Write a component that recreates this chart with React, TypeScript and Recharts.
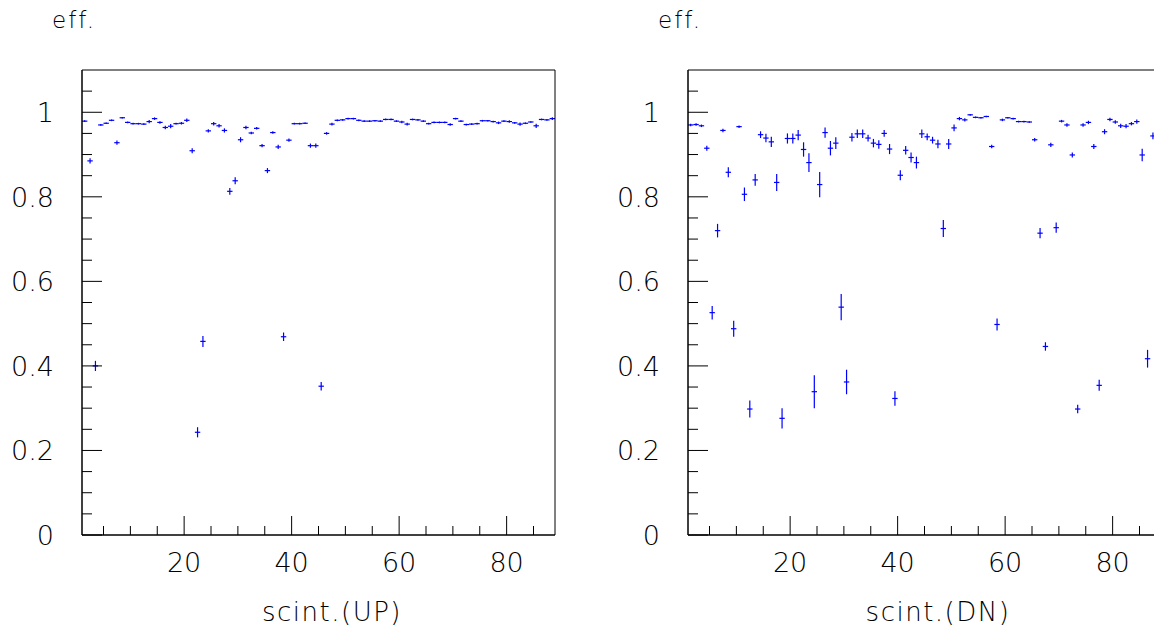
import React from 'react';
import { ScatterChart, Scatter, XAxis, YAxis, ErrorBar } from 'recharts';

// scintillator numbers (histogram bins 1..88, bin i spans [i, i+1])
const scintillators: number[] = Array.from({ length: 88 }, (_, i) => i + 1);

const effUP: number[] = [
  0.979, 0.885, 0.400, 0.970, 0.974, 0.981, 0.928, 0.987, 0.976, 0.973,
  0.973, 0.972, 0.978, 0.985, 0.976, 0.964, 0.967, 0.973, 0.974, 0.981,
  0.909, 0.243, 0.458, 0.956, 0.973, 0.968, 0.957, 0.813, 0.838, 0.935,
  0.964, 0.951, 0.962, 0.921, 0.862, 0.952, 0.918, 0.469, 0.934, 0.973,
  0.973, 0.974, 0.921, 0.921, 0.352, 0.950, 0.972, 0.981, 0.982, 0.985,
  0.985, 0.981, 0.979, 0.979, 0.980, 0.979, 0.983, 0.983, 0.979, 0.977,
  0.972, 0.983, 0.982, 0.979, 0.973, 0.976, 0.976, 0.976, 0.971, 0.985,
  0.979, 0.971, 0.972, 0.973, 0.980, 0.980, 0.978, 0.975, 0.979, 0.978,
  0.975, 0.972, 0.974, 0.977, 0.968, 0.983, 0.982, 0.985,
];
const errUP: number[] = [
  0.002, 0.006, 0.012, 0.002, 0.002, 0.002, 0.005, 0.002, 0.002, 0.002,
  0.002, 0.002, 0.004, 0.003, 0.003, 0.004, 0.005, 0.002, 0.003, 0.004,
  0.006, 0.012, 0.013, 0.004, 0.004, 0.004, 0.005, 0.008, 0.008, 0.006,
  0.004, 0.003, 0.003, 0.004, 0.006, 0.003, 0.005, 0.010, 0.004, 0.002,
  0.002, 0.002, 0.005, 0.005, 0.010, 0.003, 0.003, 0.002, 0.002, 0.002,
  0.002, 0.002, 0.002, 0.002, 0.002, 0.002, 0.002, 0.002, 0.002, 0.003,
  0.003, 0.002, 0.002, 0.002, 0.002, 0.002, 0.002, 0.002, 0.003, 0.002,
  0.002, 0.002, 0.002, 0.002, 0.002, 0.002, 0.002, 0.003, 0.002, 0.003,
  0.002, 0.004, 0.002, 0.002, 0.005, 0.002, 0.002, 0.003,
];
const effDN: number[] = [
  0.970, 0.971, 0.968, 0.915, 0.526, 0.720, 0.957, 0.858, 0.488, 0.966,
  0.806, 0.298, 0.840, 0.947, 0.939, 0.930, 0.834, 0.276, 0.938, 0.938,
  0.946, 0.912, 0.881, 0.339, 0.829, 0.952, 0.915, 0.927, 0.539, 0.362,
  0.941, 0.949, 0.949, 0.939, 0.927, 0.924, 0.950, 0.913, 0.323, 0.851,
  0.910, 0.893, 0.881, 0.949, 0.942, 0.934, 0.925, 0.725, 0.925, 0.963,
  0.985, 0.982, 0.994, 0.988, 0.987, 0.990, 0.919, 0.498, 0.982, 0.987,
  0.985, 0.978, 0.978, 0.977, 0.935, 0.714, 0.446, 0.923, 0.727, 0.979,
  0.970, 0.899, 0.298, 0.970, 0.976, 0.919, 0.354, 0.954, 0.983, 0.977,
  0.968, 0.967, 0.973, 0.978, 0.899, 0.417, 0.944, 0.960,
];
const errDN: number[] = [
  0.003, 0.003, 0.003, 0.006, 0.016, 0.016, 0.004, 0.012, 0.019, 0.003,
  0.016, 0.020, 0.014, 0.008, 0.010, 0.012, 0.020, 0.024, 0.012, 0.012,
  0.012, 0.017, 0.022, 0.039, 0.030, 0.012, 0.017, 0.014, 0.031, 0.029,
  0.010, 0.010, 0.010, 0.008, 0.010, 0.010, 0.008, 0.012, 0.017, 0.012,
  0.010, 0.012, 0.014, 0.010, 0.008, 0.008, 0.010, 0.020, 0.012, 0.008,
  0.004, 0.004, 0.002, 0.002, 0.002, 0.002, 0.004, 0.014, 0.003, 0.002,
  0.002, 0.002, 0.002, 0.002, 0.004, 0.012, 0.010, 0.005, 0.012, 0.003,
  0.004, 0.006, 0.010, 0.004, 0.004, 0.006, 0.013, 0.006, 0.004, 0.004,
  0.005, 0.005, 0.004, 0.005, 0.015, 0.021, 0.008, 0.006,
];

const xTicks: number[] = [5, 10, 15, 20, 25, 30, 35, 40, 45, 50, 55, 60, 65, 70, 75, 80, 85];
const xMajorTicks: number[] = [20, 40, 60, 80];
const yTicks: number[] = [
  0, 0.05, 0.1, 0.15, 0.2, 0.25, 0.3, 0.35, 0.4, 0.45, 0.5,
  0.55, 0.6, 0.65, 0.7, 0.75, 0.8, 0.85, 0.9, 0.95, 1, 1.05,
];
const yMajorTicks: number[] = [0, 0.2, 0.4, 0.6, 0.8, 1];
const yTickLabels: string[] = ['0', '0.2', '0.4', '0.6', '0.8', '1'];

const FONT = "'DejaVu Sans', 'Liberation Sans', sans-serif";
const BLUE = '#0000ff';

const isMajor = (v: number, list: number[]) => list.findIndex((m) => Math.abs(m - v) < 1e-6);

const XTick = (props: any) => {
  const { x, y, payload } = props;
  const idx = isMajor(payload.value, xMajorTicks);
  return (
    <g>
      <line x1={x} x2={x} y1={y} y2={y - (idx >= 0 ? 19 : 9)} stroke="#000" strokeWidth={1} />
      {idx >= 0 && (
        <text x={x} y={y + 37} textAnchor="middle" fontFamily={FONT} fontWeight={200} fontSize={27} fill="#000">
          {String(xMajorTicks[idx])}
        </text>
      )}
    </g>
  );
};

const YTick = (props: any) => {
  const { x, y, payload } = props;
  const idx = isMajor(payload.value, yMajorTicks);
  return (
    <g>
      <line x1={x} x2={x + (idx >= 0 ? 20 : 10)} y1={y} y2={y} stroke="#000" strokeWidth={1} />
      {idx >= 0 && (
        <text x={x - 28} y={y + 10} textAnchor="end" fontFamily={FONT} fontWeight={200} fontSize={27} fill="#000">
          {yTickLabels[idx]}
        </text>
      )}
    </g>
  );
};

const XTitle = (props: any) => {
  const vb = props.viewBox || { x: 82, y: 535, width: 473, height: 0 };
  return (
    <text x={vb.x + 250} y={vb.y + 86} textAnchor="middle" fontFamily={FONT} fontWeight={200} fontSize={26} letterSpacing={1.5} fill="#000">
      {props.text}
    </text>
  );
};

const YTitle = (props: any) => {
  const vb = props.viewBox || { x: 81, y: 70, width: 1, height: 465 };
  return (
    <text x={vb.x - 29} y={vb.y - 42} textAnchor="start" fontFamily={FONT} fontWeight={200} fontSize={23} letterSpacing={2} fill="#000">
      {props.text}
    </text>
  );
};

const NoMarker = () => <g />;

type PanelProps = { values: number[]; errors: number[]; title: string; left: number };

const Panel = ({ values, errors, title, left }: PanelProps) => {
  const data = scintillators.map((s, i) => ({ x: s + 0.5, y: values[i], ex: 0.5, ey: errors[i] }));
  return (
    <div style={{ position: 'absolute', left, top: 0 }}>
      <ScatterChart width={577} height={628} margin={{ top: 69, right: 21, bottom: 92, left: 81 }}>
        <XAxis
          xAxisId="b"
          type="number"
          dataKey="x"
          domain={[1, 89]}
          allowDataOverflow
          ticks={xTicks}
          interval={0}
          height={1}
          tickSize={0}
          tickMargin={0}
          tickLine={false}
          tick={<XTick />}
          axisLine={{ stroke: '#000', strokeWidth: 1.5 }}
          label={<XTitle text={title} />}
        />
        <XAxis
          xAxisId="t"
          orientation="top"
          type="number"
          domain={[1, 89]}
          allowDataOverflow
          height={1}
          tick={false}
          tickLine={false}
          axisLine={{ stroke: '#000', strokeWidth: 1 }}
        />
        <YAxis
          yAxisId="l"
          type="number"
          dataKey="y"
          domain={[0, 1.1]}
          allowDataOverflow
          ticks={yTicks}
          interval={0}
          width={1}
          tickSize={0}
          tickMargin={0}
          tickLine={false}
          tick={<YTick />}
          axisLine={{ stroke: '#000', strokeWidth: 1.5 }}
          label={<YTitle text="eff." />}
        />
        <YAxis
          yAxisId="r"
          orientation="right"
          type="number"
          domain={[0, 1.1]}
          allowDataOverflow
          width={1}
          tick={false}
          tickLine={false}
          axisLine={{ stroke: '#000', strokeWidth: 1 }}
        />
        <Scatter xAxisId="b" yAxisId="l" data={data} shape={<NoMarker />} isAnimationActive={false}>
          <ErrorBar dataKey="ex" direction="x" width={0} stroke={BLUE} strokeWidth={1.2} isAnimationActive={false} />
          <ErrorBar dataKey="ey" direction="y" width={0} stroke={BLUE} strokeWidth={1.2} isAnimationActive={false} />
        </Scatter>
      </ScatterChart>
    </div>
  );
}

export default function App() {
  return (
    <div style={{ position: 'absolute', left: 0, top: 0, width: 1154, height: 628, overflow: 'hidden', background: '#fff' }}>
      <Panel values={effUP} errors={errUP} title="scint.(UP)" left={0} />
      <Panel values={effDN} errors={errDN} title="scint.(DN)" left={606} />
    </div>
  );
}
